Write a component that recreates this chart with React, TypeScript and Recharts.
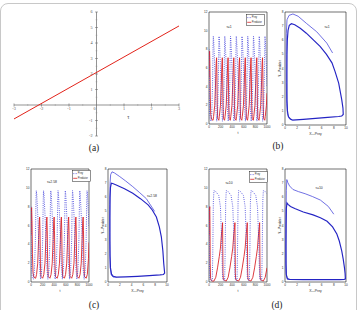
import React from 'react';
import {
  LineChart,
  Line,
  XAxis,
  YAxis,
  ReferenceLine,
  ReferenceDot,
  ReferenceArea,
  Legend,
} from 'recharts';

type Pt = [number, number];
const rows = (pts: Pt[]) => pts.map(([x, v]) => ({ x, v }));

// ---------- (a) linear relation in tau ----------
const tauLine: Pt[] = [
  [-3, -0.9],
  [3, 5.1],
];
const tauMajorX = [-3, -2, -1, 1, 2, 3];
const tauMinorX = [-2.5, -1.5, -0.5, 0.5, 1.5, 2.5];
const tauMajorY = [-2, -1, 1, 2, 3, 4, 5, 6];
const tauMinorY = [-1.5, -0.5, 0.5, 1.5, 2.5, 3.5, 4.5, 5.5];

// ---------- time axes / phase axes ----------
const timeTicks = [0, 200, 400, 600, 800, 1000];
const popTicks = [0, 2, 4, 6, 8, 10, 12];
const preyTicks = [0, 2, 4, 6, 8, 10];
const predTicks = [0, 1, 2, 3, 4, 5, 6, 7, 8];

// ---------- (b) tau = 1 ----------
const preyB: Pt[] = [
  [0, 8], [4, 4], [10, 1.3], [20, 0.5],
  [34, 0.3], [49, 1.2], [62, 4.5], [70, 8.5], [74, 9.4], [80, 9], [94, 7], [109, 4], [122, 1.3],
  [133, 0.3], [148, 1.2], [161, 4.5], [169, 8.5], [173, 9.4], [179, 9], [193, 7], [208, 4], [221, 1.3],
  [232, 0.3], [247, 1.2], [260, 4.5], [268, 8.5], [272, 9.4], [278, 9], [292, 7], [307, 4], [320, 1.3],
  [331, 0.3], [346, 1.2], [359, 4.5], [367, 8.5], [371, 9.4], [377, 9], [391, 7], [406, 4], [419, 1.3],
  [430, 0.3], [445, 1.2], [458, 4.5], [466, 8.5], [470, 9.4], [476, 9], [490, 7], [505, 4], [518, 1.3],
  [529, 0.3], [544, 1.2], [557, 4.5], [565, 8.5], [569, 9.4], [575, 9], [589, 7], [604, 4], [617, 1.3],
  [628, 0.3], [643, 1.2], [656, 4.5], [664, 8.5], [668, 9.4], [674, 9], [688, 7], [703, 4], [716, 1.3],
  [727, 0.3], [742, 1.2], [755, 4.5], [763, 8.5], [767, 9.4], [773, 9], [787, 7], [802, 4], [815, 1.3],
  [826, 0.3], [841, 1.2], [854, 4.5], [862, 8.5], [866, 9.4], [872, 9], [886, 7], [901, 4], [914, 1.3],
  [925, 0.3], [940, 1.2], [953, 4.5], [961, 8.5], [965, 9.4], [971, 9], [985, 7], [1000, 4],
];
const predB: Pt[] = [
  [0, 5], [4, 7.2], [10, 7.8], [15, 6.5], [22, 3], [30, 1], [45, 0.5], [70, 0.4],
  [79, 0.8], [99, 2], [114, 4.5], [124, 6.5], [131, 7.1], [136, 5.5], [142, 2], [150, 0.6], [169, 0.4],
  [178, 0.8], [198, 2], [213, 4.5], [223, 6.5], [230, 7.1], [235, 5.5], [241, 2], [249, 0.6], [268, 0.4],
  [277, 0.8], [297, 2], [312, 4.5], [322, 6.5], [329, 7.1], [334, 5.5], [340, 2], [348, 0.6], [367, 0.4],
  [376, 0.8], [396, 2], [411, 4.5], [421, 6.5], [428, 7.1], [433, 5.5], [439, 2], [447, 0.6], [466, 0.4],
  [475, 0.8], [495, 2], [510, 4.5], [520, 6.5], [527, 7.1], [532, 5.5], [538, 2], [546, 0.6], [565, 0.4],
  [574, 0.8], [594, 2], [609, 4.5], [619, 6.5], [626, 7.1], [631, 5.5], [637, 2], [645, 0.6], [664, 0.4],
  [673, 0.8], [693, 2], [708, 4.5], [718, 6.5], [725, 7.1], [730, 5.5], [736, 2], [744, 0.6], [763, 0.4],
  [772, 0.8], [792, 2], [807, 4.5], [817, 6.5], [824, 7.1], [829, 5.5], [835, 2], [843, 0.6], [862, 0.4],
  [871, 0.8], [891, 2], [906, 4.5], [916, 6.5], [923, 7.1], [928, 5.5], [934, 2], [942, 0.6], [961, 0.4],
  [970, 0.8], [990, 2], [1000, 3.3],
];
const startB: Pt[] = [
  [7.8, 5.1], [6.85, 5.8], [5.2, 6.6], [3.5, 7.2], [2.15, 7.7], [1.3, 7.86], [0.66, 7.76], [0.33, 7.45],
  [0.22, 6.5], [0.2, 5], [0.22, 3], [0.28, 1.5], [0.4, 0.8], [0.7, 0.45], [1.2, 0.35],
];
const cycleB: Pt[] = [
  [1.2, 0.35], [3, 0.4], [5, 0.47], [7, 0.54], [8.8, 0.6], [9.3, 0.64], [9.55, 0.75], [9.5, 1.2],
  [9.3, 1.8], [8.8, 2.96], [8.2, 3.8], [7.7, 4.4], [6.8, 5], [5.75, 5.56], [4.6, 6.05], [3.5, 6.5],
  [2.5, 6.85], [1.6, 7.1], [1.05, 7.17], [0.7, 7.05], [0.5, 6.7], [0.38, 6], [0.33, 5], [0.32, 3.5],
  [0.33, 1.77], [0.4, 1], [0.55, 0.6], [0.9, 0.42], [1.2, 0.35],
];

// ---------- (c) tau = 2.58 ----------
const preyC: Pt[] = [
  [0, 8], [4, 4], [10, 1.3], [20, 0.5],
  [41, 0.3], [59, 1.2], [76, 4.5], [86, 8.7], [91, 9.7], [99, 9.3], [116, 7.2], [135, 4], [151, 1.3],
  [166, 0.3], [184, 1.2], [201, 4.5], [211, 8.7], [216, 9.7], [224, 9.3], [241, 7.2], [260, 4], [276, 1.3],
  [291, 0.3], [309, 1.2], [326, 4.5], [336, 8.7], [341, 9.7], [349, 9.3], [366, 7.2], [385, 4], [401, 1.3],
  [416, 0.3], [434, 1.2], [451, 4.5], [461, 8.7], [466, 9.7], [474, 9.3], [491, 7.2], [510, 4], [526, 1.3],
  [541, 0.3], [559, 1.2], [576, 4.5], [586, 8.7], [591, 9.7], [599, 9.3], [616, 7.2], [635, 4], [651, 1.3],
  [666, 0.3], [684, 1.2], [701, 4.5], [711, 8.7], [716, 9.7], [724, 9.3], [741, 7.2], [760, 4], [776, 1.3],
  [791, 0.3], [809, 1.2], [826, 4.5], [836, 8.7], [841, 9.7], [849, 9.3], [866, 7.2], [885, 4], [901, 1.3],
  [916, 0.3], [934, 1.2], [951, 4.5], [961, 8.7], [966, 9.7], [974, 9.3], [991, 7.2], [1000, 5.8],
];
const predC: Pt[] = [
  [0, 5], [5, 7.4], [11, 7.9], [17, 6.5], [25, 3], [35, 1], [50, 0.5], [80, 0.4],
  [96, 0.8], [116, 2], [131, 4.5], [143, 6.5], [149, 6.9], [155, 5.5], [162, 2], [171, 0.6], [201, 0.4],
  [221, 0.8], [241, 2], [256, 4.5], [268, 6.5], [274, 6.9], [280, 5.5], [287, 2], [296, 0.6], [326, 0.4],
  [346, 0.8], [366, 2], [381, 4.5], [393, 6.5], [399, 6.9], [405, 5.5], [412, 2], [421, 0.6], [451, 0.4],
  [471, 0.8], [491, 2], [506, 4.5], [518, 6.5], [524, 6.9], [530, 5.5], [537, 2], [546, 0.6], [576, 0.4],
  [596, 0.8], [616, 2], [631, 4.5], [643, 6.5], [649, 6.9], [655, 5.5], [662, 2], [671, 0.6], [701, 0.4],
  [721, 0.8], [741, 2], [756, 4.5], [768, 6.5], [774, 6.9], [780, 5.5], [787, 2], [796, 0.6], [826, 0.4],
  [846, 0.8], [866, 2], [881, 4.5], [893, 6.5], [899, 6.9], [905, 5.5], [912, 2], [921, 0.6], [951, 0.4],
  [971, 0.8], [991, 2.5], [1000, 4.2],
];
const startC: Pt[] = [
  [7.9, 5], [6.5, 5.9], [5.3, 6.35], [4.2, 6.75], [3, 7.15], [2, 7.46], [1.1, 7.72], [0.68, 7.8],
  [0.45, 7.6], [0.35, 7], [0.3, 5.5], [0.3, 3.5], [0.32, 2], [0.38, 1], [0.55, 0.5], [0.85, 0.35], [1.5, 0.34],
];
const cycleC: Pt[] = [
  [1.5, 0.34], [3, 0.36], [5, 0.4], [7, 0.45], [8.8, 0.5], [9.4, 0.53], [9.6, 0.64], [9.44, 1.34],
  [9.3, 2.2], [9.04, 3.2], [8.7, 3.9], [8.2, 4.6], [7.5, 5.1], [6.8, 5.46], [5.5, 5.9], [4.2, 6.28],
  [2.8, 6.6], [1.4, 6.87], [0.8, 6.97], [0.56, 6.99], [0.42, 6.7], [0.35, 6], [0.32, 4.5], [0.32, 3],
  [0.35, 1.8], [0.42, 1], [0.6, 0.55], [0.9, 0.4], [1.5, 0.34],
];

// ---------- (d) tau = 10 ----------
const preyD: Pt[] = [
  [0, 8], [5, 4], [10, 1], [16, 0.3], [30, 0.15],
  [57, 0.2], [65, 3], [75, 8.5], [85, 9.7], [117, 9.6], [167, 9.2], [197, 8], [215, 5], [227, 2], [235, 0.5], [247, 0.2],
  [270, 0.2], [278, 3], [288, 8.5], [298, 9.7], [330, 9.6], [380, 9.2], [410, 8], [428, 5], [440, 2], [448, 0.5], [460, 0.2],
  [483, 0.2], [491, 3], [501, 8.5], [511, 9.7], [543, 9.6], [593, 9.2], [623, 8], [641, 5], [653, 2], [661, 0.5], [673, 0.2],
  [696, 0.2], [704, 3], [714, 8.5], [724, 9.7], [756, 9.6], [806, 9.2], [836, 8], [854, 5], [866, 2], [874, 0.5], [886, 0.2],
  [909, 0.2], [917, 3], [927, 8.5], [937, 9.7], [969, 9.6], [1000, 9.4],
];
const predD: Pt[] = [
  [0, 5], [6, 7.5], [13, 8], [17, 6], [21, 2], [27, 0.4], [40, 0.15], [57, 0.1],
  [85, 0.1], [117, 0.5], [147, 1.5], [177, 2.7], [197, 3.6], [215, 5.1], [227, 5.8], [234, 6.3], [237, 4], [241, 1], [247, 0.25],
  [298, 0.1], [330, 0.5], [360, 1.5], [390, 2.7], [410, 3.6], [428, 5.1], [440, 5.8], [447, 6.3], [450, 4], [454, 1], [460, 0.25],
  [511, 0.1], [543, 0.5], [573, 1.5], [603, 2.7], [623, 3.6], [641, 5.1], [653, 5.8], [660, 6.3], [663, 4], [667, 1], [673, 0.25],
  [724, 0.1], [756, 0.5], [786, 1.5], [816, 2.7], [836, 3.6], [854, 5.1], [866, 5.8], [873, 6.3], [876, 4], [880, 1], [886, 0.25],
  [937, 0.1], [969, 0.5], [1000, 1.5],
];
const startD: Pt[] = [
  [8, 4.8], [7.1, 5.35], [5.8, 5.8], [4.5, 6.05], [3.3, 6.25], [2.2, 6.4], [1.3, 6.55], [0.75, 6.8],
  [0.45, 7.05], [0.3, 7.25], [0.22, 6.5], [0.18, 5], [0.15, 3], [0.15, 1.5], [0.2, 0.6], [0.35, 0.25], [0.8, 0.18],
];
const cycleD: Pt[] = [
  [0.8, 0.18], [3, 0.17], [6, 0.17], [9, 0.17], [9.7, 0.18], [9.9, 0.22], [9.85, 0.6], [9.75, 1],
  [9.55, 1.6], [9.3, 2.2], [8.9, 2.9], [8.5, 3.4], [7.8, 3.9], [6.9, 4.3], [5.8, 4.55], [4.6, 4.75],
  [3, 4.95], [1.6, 5.2], [0.9, 5.35], [0.5, 5.5], [0.33, 5.6], [0.22, 5.2], [0.18, 4], [0.16, 2.5],
  [0.17, 1.2], [0.22, 0.5], [0.4, 0.22], [0.8, 0.18],
];

// ---------- styling ----------
const PREY = '#3a3ad8';
const PRED = '#d9252a';
const ORBIT = '#2424c4';
const ORBIT_START = '#4c4cdc';
const INK = '#2a2a2a';
const SANS = '"Liberation Sans", Arial, sans-serif';
const SERIF = '"Liberation Serif", "Times New Roman", serif';

const PAD_L = 22;
const PAD_T = 6;
const PAD_R = 6;
const PAD_B = 16;
const Y_W = 12;
const X_H = 12;

const titleBelow = (text: string, gap: number) => (props: any) => {
  const vb = props.viewBox || {};
  return (
    <text
      x={vb.x + vb.width / 2}
      y={vb.y + gap}
      fontSize={3.4}
      fontFamily={SANS}
      fill={INK}
      textAnchor="middle"
      dominantBaseline="central"
    >
      {text}
    </text>
  );
};

const titleLeft = (text: string, gap: number) => (props: any) => {
  const vb = props.viewBox || {};
  const cx = vb.x + vb.width - gap;
  const cy = vb.y + vb.height / 2;
  return (
    <text
      x={cx}
      y={cy}
      fontSize={3}
      fontFamily={SANS}
      fill={INK}
      textAnchor="middle"
      dominantBaseline="central"
      transform={`rotate(-90 ${cx} ${cy})`}
    >
      {text}
    </text>
  );
};

function SeriesKey() {
  return (
    <svg width={19} height={12} style={{ display: 'block' }}>
      <rect x={0.3} y={0.3} width={18.4} height={11.4} fill="#fff" stroke="#222" strokeWidth={0.5} />
      <line x1={1.2} x2={5.2} y1={3.6} y2={3.6} stroke={PREY} strokeWidth={0.7} strokeDasharray="0.7 0.8" />
      <text x={5.8} y={3.6} fontSize={2.6} fontFamily={SANS} fill={INK} dominantBaseline="central">
        Prey
      </text>
      <line x1={1.2} x2={5.2} y1={8.3} y2={8.3} stroke={PRED} strokeWidth={0.8} />
      <text x={5.8} y={8.3} fontSize={2.6} fontFamily={SANS} fill={INK} dominantBaseline="central">
        Predator
      </text>
    </svg>
  );
}

type FrameProps = {
  box: [number, number, number, number];
  xDomain: [number, number];
  xTicks: number[];
  yDomain: [number, number];
  yTicks: number[];
  xTitle: string;
  yTitle?: string;
  tag: string;
  tagAt: Pt;
  legendAt?: Pt;
  children?: React.ReactNode;
};

function Frame({ box, xDomain, xTicks, yDomain, yTicks, xTitle, yTitle, tag, tagAt, legendAt, children }: FrameProps) {
  const [l, t, r, b] = box;
  const width = r - l + PAD_L + PAD_R;
  const height = b - t + PAD_T + PAD_B;
  const ox = l - PAD_L;
  const oy = t - PAD_T;
  const tickStyle = { fontSize: 3.1, fill: INK, fontFamily: SANS };
  return (
    <div style={{ position: 'absolute', left: ox, top: oy, width, height }}>
      <LineChart
        width={width}
        height={height}
        margin={{ left: PAD_L - Y_W, top: PAD_T, right: PAD_R, bottom: PAD_B - X_H }}
      >
        <XAxis
          dataKey="x"
          type="number"
          domain={xDomain}
          ticks={xTicks}
          interval={0}
          allowDataOverflow
          height={X_H}
          axisLine={false}
          tickLine={false}
          tickSize={0}
          tickMargin={2.2}
          tick={tickStyle}
          label={{ content: titleBelow(xTitle, 9) }}
        />
        <YAxis
          type="number"
          domain={yDomain}
          ticks={yTicks}
          interval={0}
          allowDataOverflow
          width={Y_W}
          axisLine={false}
          tickLine={false}
          tickSize={0}
          tickMargin={1.6}
          tick={tickStyle}
          label={yTitle ? { content: titleLeft(yTitle, 5) } : undefined}
        />
        {children}
        <ReferenceArea
          x1={xDomain[0]}
          x2={xDomain[1]}
          y1={yDomain[0]}
          y2={yDomain[1]}
          fill="none"
          fillOpacity={0}
          stroke="#111"
          strokeWidth={0.6}
        />
        <ReferenceDot
          x={tagAt[0]}
          y={tagAt[1]}
          r={0}
          fill="none"
          stroke="none"
          label={{ value: tag, fontSize: 3.4, fill: INK, fontFamily: SANS, position: 'center' }}
        />
        {legendAt && (
          <Legend
            verticalAlign="middle"
            align="center"
            wrapperStyle={{ left: legendAt[0] - ox, top: legendAt[1] - oy, width: 19, height: 12 }}
            content={() => <SeriesKey />}
          />
        )}
      </LineChart>
    </div>
  );
}

function timeLines(prey: Pt[], pred: Pt[]) {
  return [
    <Line
      key="pred"
      data={rows(pred)}
      dataKey="v"
      type="linear"
      stroke={PRED}
      strokeWidth={0.9}
      dot={false}
      isAnimationActive={false}
    />,
    <Line
      key="prey"
      data={rows(prey)}
      dataKey="v"
      type="linear"
      stroke={PREY}
      strokeWidth={0.85}
      strokeDasharray="0.9 1.3"
      dot={false}
      isAnimationActive={false}
    />,
  ];
}

function orbitLines(start: Pt[], cycle: Pt[]) {
  return [
    <Line
      key="start"
      data={rows(start)}
      dataKey="v"
      type="linear"
      stroke={ORBIT_START}
      strokeWidth={0.8}
      dot={false}
      isAnimationActive={false}
    />,
    <Line
      key="cycle"
      data={rows(cycle)}
      dataKey="v"
      type="linear"
      stroke={ORBIT}
      strokeWidth={1.15}
      dot={false}
      isAnimationActive={false}
    />,
  ];
}

function TauPanel() {
  const tickLabel = { fontSize: 4.2, fill: '#555', fontFamily: SERIF };
  return (
    <div style={{ position: 'absolute', left: 0, top: 0, width: 200, height: 150 }}>
      <LineChart width={200} height={150} margin={{ left: 14, right: 21, top: 12, bottom: 14 }}>
        <XAxis dataKey="x" type="number" domain={[-3, 3]} hide allowDataOverflow />
        <YAxis type="number" domain={[-2, 6]} hide allowDataOverflow />
        <ReferenceLine y={0} stroke="#666" strokeWidth={0.7} />
        <ReferenceLine x={0} stroke="#666" strokeWidth={0.7} />
        {tauMajorX.map((t) => (
          <ReferenceLine
            key={`mx${t}`}
            segment={[{ x: t, y: -0.1 }, { x: t, y: 0.1 }]}
            stroke="#666"
            strokeWidth={0.6}
          />
        ))}
        {tauMinorX.map((t) => (
          <ReferenceLine
            key={`nx${t}`}
            segment={[{ x: t, y: -0.05 }, { x: t, y: 0.05 }]}
            stroke="#888"
            strokeWidth={0.5}
          />
        ))}
        {tauMajorY.map((v) => (
          <ReferenceLine
            key={`my${v}`}
            segment={[{ x: -0.05, y: v }, { x: 0.05, y: v }]}
            stroke="#666"
            strokeWidth={0.6}
          />
        ))}
        {tauMinorY.map((v) => (
          <ReferenceLine
            key={`ny${v}`}
            segment={[{ x: -0.03, y: v }, { x: 0.03, y: v }]}
            stroke="#888"
            strokeWidth={0.5}
          />
        ))}
        {tauMajorX.map((t) => (
          <ReferenceDot
            key={`lx${t}`}
            x={t}
            y={0}
            r={0}
            fill="none"
            stroke="none"
            label={{ value: String(t), position: 'bottom', offset: 2.5, ...tickLabel }}
          />
        ))}
        <ReferenceDot
          x={-0.07}
          y={0}
          r={0}
          fill="none"
          stroke="none"
          label={{ value: '0', position: 'bottom', offset: 2.5, ...tickLabel }}
        />
        {tauMajorY.map((v) => (
          <ReferenceDot
            key={`ly${v}`}
            x={0}
            y={v}
            r={0}
            fill="none"
            stroke="none"
            label={{ value: String(v), position: 'left', offset: 4, ...tickLabel }}
          />
        ))}
        <ReferenceDot
          x={1.16}
          y={-0.77}
          r={0}
          fill="none"
          stroke="none"
          label={{ value: 'τ', position: 'center', fontSize: 5.5, fill: '#333', fontFamily: SERIF }}
        />
        <Line
          data={rows(tauLine)}
          dataKey="v"
          type="linear"
          stroke="#e2231a"
          strokeWidth={1}
          dot={false}
          isAnimationActive={false}
        />
      </LineChart>
    </div>
  );
}

function Tag({ text, x, y }: { text: string; x: number; y: number }) {
  return (
    <div
      style={{
        position: 'absolute',
        left: x - 20,
        top: y - 6,
        width: 40,
        height: 12,
        lineHeight: '12px',
        textAlign: 'center',
        fontSize: 9.5,
        fontFamily: SERIF,
        color: '#222',
      }}
    >
      {text}
    </div>
  );
}

export default function App() {
  return (
    <div
      style={{
        position: 'absolute',
        left: 0,
        top: 0,
        width: 358,
        height: 310,
        overflow: 'hidden',
        background: '#fff',
      }}
    >
      <div
        style={{
          position: 'absolute',
          left: 0,
          top: 3,
          width: 357,
          height: 330,
          border: '1px solid #c8c8c8',
          borderRadius: 8,
          boxSizing: 'border-box',
        }}
      />
      <TauPanel />
      <Tag text="(a)" x={94} y={148} />

      <Frame
        box={[209, 12, 267, 124]}
        xDomain={[0, 1000]}
        xTicks={timeTicks}
        yDomain={[0, 12]}
        yTicks={popTicks}
        xTitle="t"
        tag="τ=1"
        tagAt={[345, 10.4]}
        legendAt={[246, 14]}
      >
        {timeLines(preyB, predB)}
      </Frame>
      <Frame
        box={[285, 12, 346, 125]}
        xDomain={[0, 10]}
        xTicks={preyTicks}
        yDomain={[0, 8]}
        yTicks={predTicks}
        xTitle="X—Prey"
        yTitle="Y—Predator"
        tag="τ=1"
        tagAt={[6.9, 6.95]}
      >
        {orbitLines(startB, cycleB)}
      </Frame>
      <Tag text="(b)" x={278} y={146} />

      <Frame
        box={[31, 169, 89, 282]}
        xDomain={[0, 1000]}
        xTicks={timeTicks}
        yDomain={[0, 12]}
        yTicks={popTicks}
        xTitle="t"
        tag="τ=2.58"
        tagAt={[362, 10.6]}
        legendAt={[72, 170]}
      >
        {timeLines(preyC, predC)}
      </Frame>
      <Frame
        box={[108, 169, 167, 282]}
        xDomain={[0, 10]}
        xTicks={preyTicks}
        yDomain={[0, 8]}
        yTicks={predTicks}
        xTitle="X—Prey"
        yTitle="Y—Predator"
        tag="τ=2.58"
        tagAt={[7.45, 6.1]}
      >
        {orbitLines(startC, cycleC)}
      </Frame>
      <Tag text="(c)" x={94} y={305} />

      <Frame
        box={[209, 169, 267, 282]}
        xDomain={[0, 1000]}
        xTicks={timeTicks}
        yDomain={[0, 12]}
        yTicks={popTicks}
        xTitle="t"
        tag="τ=10"
        tagAt={[345, 10.5]}
        legendAt={[249, 171]}
      >
        {timeLines(preyD, predD)}
      </Frame>
      <Frame
        box={[285, 169, 346, 282]}
        xDomain={[0, 10]}
        xTicks={preyTicks}
        yDomain={[0, 8]}
        yTicks={predTicks}
        xTitle="X—Prey"
        yTitle="Y—Predator"
        tag="τ=10"
        tagAt={[5.6, 6.7]}
      >
        {orbitLines(startD, cycleD)}
      </Frame>
      <Tag text="(d)" x={277} y={305} />
    </div>
  );
}
